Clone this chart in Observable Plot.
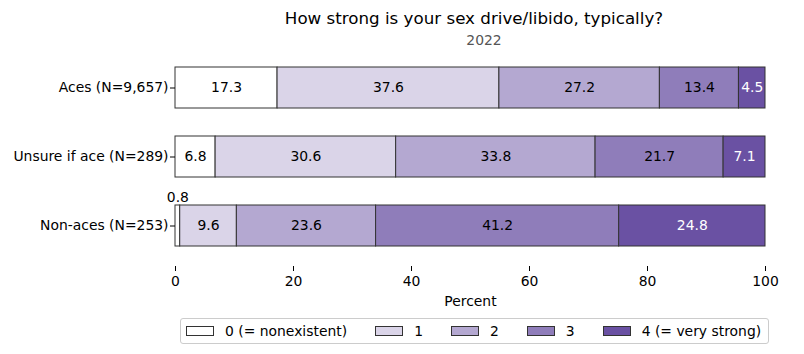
<!DOCTYPE html>
<html>
<head>
<meta charset="utf-8">
<script src="https://cdn.jsdelivr.net/npm/d3@7"></script>
<script src="https://cdn.jsdelivr.net/npm/@observablehq/plot@0.6"></script>
<style>
  body { margin: 0; background: #fff; font-family: "DejaVu Sans", sans-serif; }
  #wrap { position: relative; width: 804px; height: 354px; overflow: hidden; }
  #title { position: absolute; top: 8px; left: 74px; width: 800px; text-align: center; font-size: 16.7px; line-height: 20px; color: #000; }
  #subtitle { position: absolute; top: 32px; left: 84px; width: 800px; text-align: center; font-size: 13.9px; line-height: 17px; color: #555; }
  #chart { position: absolute; top: 46px; left: 0; }
  #legend { position: absolute; top: 318px; left: 180px; display: flex; align-items: center; gap: 28px;
            border: 1px solid #ccc; border-radius: 3px; padding: 4px 7px 4px 5px; font-size: 13.9px; line-height: 16px; }
  .item { display: flex; align-items: center; gap: 11px; }
  .sw { width: 26px; height: 8px; border: 1px solid #333; }
</style>
</head>
<body>
<div id="wrap">
  <div id="title">How strong is your sex drive/libido, typically?</div>
  <div id="subtitle">2022</div>
  <div id="chart"></div>
  <div id="legend"></div>
</div>
<script>
const groups = ["Aces (N=9,657)", "Unsure if ace (N=289)", "Non-aces (N=253)"];
const levels = ["0 (= nonexistent)", "1", "2", "3", "4 (= very strong)"];
const aces = [17.3, 37.6, 27.2, 13.4, 4.5];
const unsure = [6.8, 30.6, 33.8, 21.7, 7.1];
const nonAces = [0.8, 9.6, 23.6, 41.2, 24.8];
const colors = ["#ffffff", "#dad4e8", "#b4a8d1", "#8f7dba", "#6a51a3"];
const xTicks = [0, 20, 40, 60, 80, 100];

const series = [aces, unsure, nonAces];
const data = groups.flatMap((g, i) => series[i].map((v, j) => ({group: g, level: levels[j], li: j, value: v})));
const fmt = v => v.toFixed(1);
const st = o => Plot.stackX({x: "value", y: "group", z: "level", ...o});

const chart = Plot.plot({
  width: 804,
  height: 266,
  marginTop: 1,
  marginBottom: 46,
  marginLeft: 175,
  marginRight: 39,
  style: {fontFamily: "DejaVu Sans, sans-serif", fontSize: "13.9px", background: "white", color: "black"},
  x: {domain: [0, 100]},
  y: {domain: groups, paddingInner: 0.4, paddingOuter: 0.27},
  color: {domain: levels, range: colors},
  marks: [
    Plot.barX(data, st({fill: "level", stroke: "#333", strokeWidth: 1})),
    Plot.text(data, st({text: d => (d.li < 4 && d.value >= 2) ? fmt(d.value) : "", fill: "black"})),
    Plot.text(data, st({text: d => (d.li === 4 && d.value >= 2) ? fmt(d.value) : "", fill: "white"})),
    Plot.text(data, st({text: d => d.value < 2 ? fmt(d.value) : "", fill: "black", dy: -28})),
    Plot.axisX({ticks: xTicks, tickSize: 5, tickPadding: 5, label: "Percent", labelAnchor: "center", labelArrow: "none", labelOffset: 39}),
    Plot.axisY({tickSize: 5, tickPadding: 2, label: null})
  ]
});
document.getElementById("chart").appendChild(chart);

const legend = document.getElementById("legend");
levels.forEach((l, i) => {
  const item = document.createElement("div");
  item.className = "item";
  const sw = document.createElement("div");
  sw.className = "sw";
  sw.style.background = colors[i];
  const t = document.createElement("span");
  t.textContent = l;
  item.appendChild(sw);
  item.appendChild(t);
  legend.appendChild(item);
});
</script>
</body>
</html>
